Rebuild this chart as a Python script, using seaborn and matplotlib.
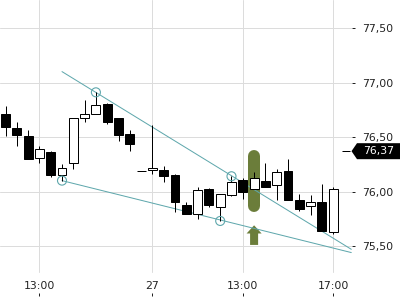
import numpy as np
import pandas as pd
import matplotlib
matplotlib.use("Agg")
import matplotlib.pyplot as plt
import seaborn as sns
from matplotlib.transforms import blended_transform_factory
from matplotlib.patches import Polygon

# ---------------- data ----------------
opens  = [76.71, 76.58, 76.51, 76.31, 76.36, 76.15, 76.26, 76.67, 76.71, 76.80,
          76.67, 76.53, 76.19, 76.20, 76.20, 76.15, 75.88, 75.79, 76.02, 75.86,
          75.97, 76.11, 76.02, 76.10, 76.06, 76.19, 75.92, 75.87, 75.90, 75.63]
highs  = [76.78, 76.64, 76.56, 76.42, 76.37, 76.25, 76.67, 76.84, 76.91, 76.81,
          76.67, 76.56, 76.19, 76.61, 76.23, 76.16, 75.90, 76.04, 76.03, 75.98,
          76.14, 76.12, 76.18, 76.26, 76.21, 76.30, 75.98, 75.97, 76.07, 76.04]
lows   = [76.51, 76.42, 76.30, 76.26, 76.13, 76.10, 76.21, 76.64, 76.71, 76.62,
          76.46, 76.37, 76.19, 76.16, 76.09, 75.81, 75.79, 75.75, 75.86, 75.73,
          75.96, 75.93, 76.02, 76.04, 75.92, 75.92, 75.82, 75.78, 75.64, 75.61]
closes = [76.59, 76.52, 76.30, 76.39, 76.15, 76.22, 76.67, 76.71, 76.79, 76.64,
          76.52, 76.44, 76.19, 76.22, 76.14, 75.90, 75.79, 76.01, 75.88, 75.98,
          76.09, 76.00, 76.12, 76.04, 76.18, 75.92, 75.84, 75.90, 75.64, 76.02]

last_price = 76.37
last_price_label = "76,37"

# trend lines (start / end) and pivot points
upper_line_x = [5.0, 30.6]
upper_line_y = [77.10, 75.47]
lower_line_x = [5.0, 30.6]
lower_line_y = [76.10, 75.44]
pivot_x = [8, 20, 5, 19]
pivot_y = [76.91, 76.14, 76.10, 75.73]

# buy signal
signal_x = 22
signal_bar = [75.87, 76.33]
signal_arrow = [75.51, 75.69]

xtick_pos = [3, 13, 21, 29]
xtick_labels = ["13:00", "27", "13:00", "17:00"]
ytick_vals = [75.5, 76.0, 76.5, 77.0, 77.5]
ytick_labels = ["75,50", "76,00", "76,50", "77,00", "77,50"]

# ---------------- style ----------------
sns.set_theme(style="white")
plt.rcParams["font.family"] = ["DejaVu Sans"]

TEAL = "#5ea7ac"
GREEN = "#6b7d3a"
GRID = "#dcdcdc"
TXT = "#222222"
PX = 0.72  # points per pixel at dpi 100

fig = plt.figure(figsize=(4, 3), dpi=100)
ax = fig.add_axes([0, 7 / 300, 352 / 400, 293 / 300])
ax.set_xlim(-0.487, 30.664)
ax.set_ylim(75.069, 77.757)
for s in ax.spines.values():
    s.set_visible(False)

# grid
for v in ytick_vals:
    ax.axhline(v, color=GRID, lw=1 * PX, zorder=0)
for p in xtick_pos:
    ax.axvline(p, ymin=0.072, ymax=1, color=GRID, lw=1 * PX, zorder=0)

# buy signal
ax.plot([signal_x, signal_x], signal_bar, color=GREEN, lw=12 * PX,
        solid_capstyle="round", zorder=2)
ax.arrow(signal_x, signal_arrow[0], 0, signal_arrow[1] - signal_arrow[0],
         width=0.71, head_width=1.33, head_length=0.075,
         length_includes_head=True, color=GREEN, lw=0, zorder=2)

# trend lines
df_lines = pd.DataFrame({
    "x": upper_line_x + lower_line_x,
    "y": upper_line_y + lower_line_y,
    "line": ["upper"] * 2 + ["lower"] * 2,
})
sns.lineplot(data=df_lines, x="x", y="y", hue="line", units="line", estimator=None,
             palette=[TEAL, TEAL], lw=1 * PX, legend=False, ax=ax, zorder=3)
sns.scatterplot(x=pivot_x, y=pivot_y, s=42, marker="o", facecolor="none",
                edgecolor=TEAL, linewidth=0.8, ax=ax, zorder=5)

# candles
x = np.arange(len(opens))
for i in x:
    o, h, l, c = opens[i], highs[i], lows[i], closes[i]
    if h > l:
        ax.vlines(i, l, h, color="black", lw=1 * PX, zorder=4)
    if abs(c - o) < 1e-9:
        ax.hlines(o, i - 0.4, i + 0.4, color="black", lw=1 * PX, zorder=4)
    else:
        ax.bar(i, abs(c - o), bottom=min(o, c), width=0.78,
               color="white" if c > o else "black", edgecolor="black",
               lw=1 * PX, zorder=4)

# last price dash
ax.hlines(last_price, len(opens) - 0.25, len(opens) + 0.45, color="black",
          lw=1 * PX, zorder=4)

# axes ticks
ax.set_xticks(xtick_pos)
ax.set_xticklabels(xtick_labels)
ax.set_yticks(ytick_vals)
ax.set_yticklabels(ytick_labels)
ax.yaxis.tick_right()
ax.tick_params(axis="y", direction="out", length=3 * PX, width=1 * PX, pad=5,
               labelsize=7.8, colors=TXT, right=True, left=False)
ax.tick_params(axis="x", direction="out", length=3 * PX, width=1 * PX, pad=-11,
               labelsize=7.8, colors=TXT, bottom=True)
ax.set_xlabel("")
ax.set_ylabel("")

# price tag
tr = blended_transform_factory(ax.transAxes, ax.transData)
hh = 8 / 109
tag = Polygon([[351.5 / 352, last_price], [357 / 352, last_price + hh],
               [400 / 352, last_price + hh], [400 / 352, last_price - hh],
               [357 / 352, last_price - hh]], closed=True, transform=tr,
              facecolor="black", edgecolor="none", clip_on=False, zorder=6)
ax.add_patch(tag)
ax.text(363 / 352, last_price, last_price_label, transform=tr, color="white",
        fontsize=7.8, ha="left", va="center", zorder=7, clip_on=False)

fig.savefig("out.png", dpi=100)
